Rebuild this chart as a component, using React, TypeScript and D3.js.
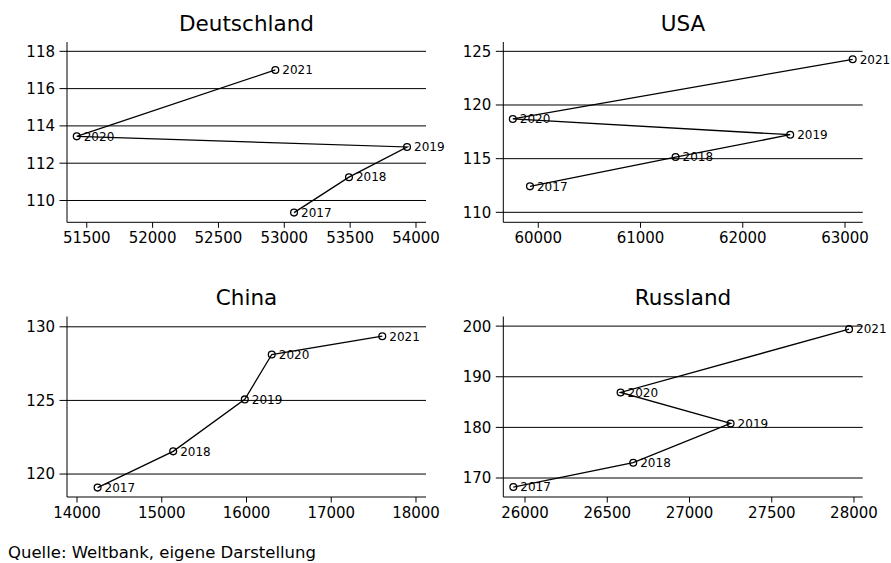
import React from "react";
import * as d3 from "d3";

const years = ["2017", "2018", "2019", "2020", "2021"];
const countries = ["Deutschland", "USA", "China", "Russland"];

const deX = [53074, 53491, 53932, 51424, 52932];
const deY = [109.35, 111.25, 112.87, 113.44, 117.0];
const usX = [59919, 61343, 62464, 59751, 63075];
const usY = [112.42, 115.15, 117.23, 118.7, 124.26];
const cnX = [14243, 15135, 15980, 16298, 17602];
const cnY = [119.08, 121.54, 125.07, 128.12, 129.36];
const ruX = [25929, 26658, 27250, 26581, 27970];
const ruY = [168.22, 173.02, 180.78, 186.9, 199.4];

const deXTicks = [51500, 52000, 52500, 53000, 53500, 54000];
const deYTicks = [110, 112, 114, 116, 118];
const usXTicks = [60000, 61000, 62000, 63000];
const usYTicks = [110, 115, 120, 125];
const cnXTicks = [14000, 15000, 16000, 17000, 18000];
const cnYTicks = [120, 125, 130];
const ruXTicks = [26000, 26500, 27000, 27500, 28000];
const ruYTicks = [170, 180, 190, 200];

const deXDomain = [51350, 54076];
const deYDomain = [108.83, 118.5];
const usXDomain = [59658, 63173];
const usYDomain = [109.07, 125.87];
const cnXDomain = [13882, 18118];
const cnYDomain = [118.44, 130.7];
const ruXDomain = [25868, 28053];
const ruYDomain = [166.25, 201.9];

const source = "Quelle: Weltbank, eigene Darstellung";

const FONT = "DejaVu Sans, sans-serif";

const panels = [
  { name: countries[0], xs: deX, ys: deY, xt: deXTicks, yt: deYTicks, xd: deXDomain, yd: deYDomain, col: 0, row: 0 },
  { name: countries[1], xs: usX, ys: usY, xt: usXTicks, yt: usYTicks, xd: usXDomain, yd: usYDomain, col: 1, row: 0 },
  { name: countries[2], xs: cnX, ys: cnY, xt: cnXTicks, yt: cnYTicks, xd: cnXDomain, yd: cnYDomain, col: 0, row: 1 },
  { name: countries[3], xs: ruX, ys: ruY, xt: ruXTicks, yt: ruYTicks, xd: ruXDomain, yd: ruYDomain, col: 1, row: 1 },
];

const colLeft = [67, 503.3];
const colRight = [426, 862.7];
const rowTop = [42, 316.5];
const rowBottom = [222.3, 497];
const clipX = [[0, 445], [445, 891]];

function Panel({ p, idx }: { p: any; idx: number }) {
  const x0 = colLeft[p.col], x1 = colRight[p.col];
  const y0 = rowTop[p.row], y1 = rowBottom[p.row];
  const x = d3.scaleLinear().domain(p.xd).range([x0, x1]);
  const y = d3.scaleLinear().domain(p.yd).range([y1, y0]);
  const pts = p.xs.map((v: number, i: number) => [x(v), y(p.ys[i])] as [number, number]);
  const line = d3.line()(pts) || "";
  const cid = `clip${idx}`;
  return (
    <g>
      <defs>
        <clipPath id={cid}>
          <rect x={clipX[p.col][0]} y={0} width={clipX[p.col][1] - clipX[p.col][0]} height={563} />
        </clipPath>
      </defs>
      <g clipPath={`url(#${cid})`}>
        <text x={(x0 + x1) / 2} y={y0 - 11.5} textAnchor="middle" fontSize={21.5} fontFamily={FONT} fill="#000">
          {p.name}
        </text>
        {p.yt.map((t: number) => (
          <g key={"y" + t}>
            <line x1={x0 - 7.5} x2={x1} y1={y(t)} y2={y(t)} stroke="#000" strokeWidth={1} />
            <text x={x0 - 12} y={y(t)} dy="0.36em" textAnchor="end" fontSize={15} fontFamily={FONT} fill="#000">
              {t}
            </text>
          </g>
        ))}
        {p.xt.map((t: number) => (
          <g key={"x" + t}>
            <line x1={x(t)} x2={x(t)} y1={y1} y2={y1 + 5.5} stroke="#000" strokeWidth={1} />
            <text x={x(t)} y={y1 + 21} textAnchor="middle" fontSize={15} fontFamily={FONT} fill="#000">
              {t}
            </text>
          </g>
        ))}
        <line x1={x0} x2={x0} y1={y0} y2={y1} stroke="#000" strokeWidth={1} />
        <line x1={x0} x2={x1} y1={y1} y2={y1} stroke="#000" strokeWidth={1} />
        <path d={line} fill="none" stroke="#000" strokeWidth={1.3} />
        {pts.map((pt: [number, number], i: number) => (
          <g key={"p" + i}>
            <circle cx={pt[0]} cy={pt[1]} r={3.4} fill="none" stroke="#000" strokeWidth={1.3} />
            <text x={pt[0] + 7} y={pt[1]} dy="0.36em" fontSize={12} fontFamily={FONT} fill="#000">
              {years[i]}
            </text>
          </g>
        ))}
      </g>
    </g>
  );
}

export default function App() {
  return (
    <svg
      width={891}
      height={563}
      style={{ position: "absolute", left: 0, top: 0, background: "#fff" }}
    >
      <rect width={891} height={563} fill="#fff" />
      {panels.map((p, i) => (
        <Panel key={p.name} p={p} idx={i} />
      ))}
      <text x={8} y={558} fontSize={16.5} fontFamily={FONT} fill="#000">
        {source}
      </text>
    </svg>
  );
}
